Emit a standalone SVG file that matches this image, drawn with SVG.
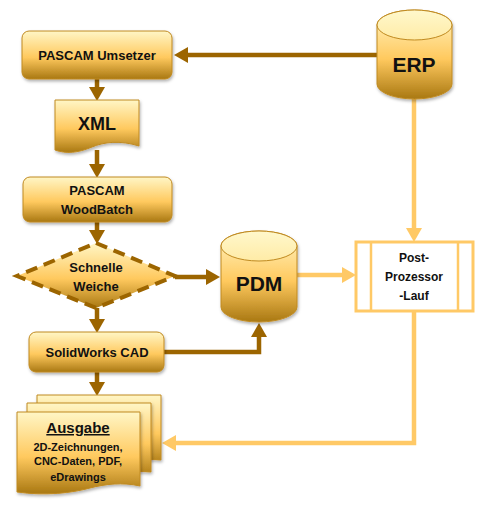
<svg xmlns="http://www.w3.org/2000/svg" width="490" height="510" viewBox="0 0 490 510">
<defs>
<linearGradient id="g" x1="0" y1="0" x2="0" y2="1">
<stop offset="0" stop-color="#FFF6C6"/>
<stop offset="0.55" stop-color="#FFC95E"/>
<stop offset="1" stop-color="#A97812"/>
</linearGradient>
<linearGradient id="gtop" x1="0" y1="0" x2="0" y2="1">
<stop offset="0" stop-color="#FFF8CC"/>
<stop offset="1" stop-color="#FFEBA6"/>
</linearGradient>
<filter id="sh" x="-10%" y="-10%" width="125%" height="130%">
<feDropShadow dx="1" dy="2" stdDeviation="1.5" flood-color="#000" flood-opacity="0.3"/>
</filter>
<marker id="ab" markerUnits="userSpaceOnUse" markerWidth="14" markerHeight="16" refX="0" refY="8" orient="auto">
<path d="M0,0 L14,8 L0,16 z" fill="#9C6500"/>
</marker>
<marker id="al" markerUnits="userSpaceOnUse" markerWidth="14" markerHeight="16" refX="0" refY="8" orient="auto">
<path d="M0,0 L14,8 L0,16 z" fill="#FFC966"/>
</marker>
<style>
.n{fill:url(#g);stroke:#C08A20;stroke-width:1;filter:url(#sh)}
.top{fill:url(#gtop);stroke:#C08A20;stroke-width:1}
.t{font-family:"Liberation Sans",Arial,sans-serif;font-weight:bold;font-size:13px;fill:#111;text-anchor:middle}
.cb{fill:none;stroke:#9C6500;stroke-width:4.5}
.cl{fill:none;stroke:#FFC966;stroke-width:4.5}
</style>
</defs>
<rect width="490" height="510" fill="#FFFFFF"/>
<g id="connectors">
<path class="cb" d="M377,55 H188" marker-end="url(#ab)"/>
<path class="cb" d="M97,79 V87" marker-end="url(#ab)"/>
<path class="cb" d="M97,150 V164" marker-end="url(#ab)"/>
<path class="cb" d="M97,222 V230" marker-end="url(#ab)"/>
<path class="cb" d="M97,308 V319" marker-end="url(#ab)"/>
<path class="cb" d="M97,372 V382" marker-end="url(#ab)"/>
<path class="cb" d="M175,277 H206" marker-end="url(#ab)"/>
<path class="cb" d="M164,352 H259 V337" marker-end="url(#ab)"/>
<path class="cl" d="M414,99 V228" marker-end="url(#al)"/>
<path class="cl" d="M297,275 H342" marker-end="url(#al)"/>
<path class="cl" d="M414,311 V443 H176" marker-end="url(#al)"/>
</g>
<g id="umsetzer">
<rect class="n" x="22" y="31" width="150" height="48" rx="7"/>
<text class="t" x="97" y="60">PASCAM Umsetzer</text>
</g>
<g id="xml">
<path class="n" d="M55,100 H139 V146 C120,140 104,142 92,147 C78,153 66,154 55,150 Z"/>
<text class="t" x="97" y="130" style="font-size:18px">XML</text>
</g>
<g id="woodbatch">
<rect class="n" x="23" y="177" width="149" height="45" rx="7"/>
<text class="t" x="97" y="195">PASCAM</text>
<text class="t" x="97" y="214">WoodBatch</text>
</g>
<g id="weiche">
<polygon points="96,243 175,276 96,308 17,276" fill="url(#g)" stroke="#9C6500" stroke-width="4" stroke-dasharray="12 7"/>
<text class="t" x="96" y="272">Schnelle</text>
<text class="t" x="96" y="291">Weiche</text>
</g>
<g id="solidworks">
<rect class="n" x="29" y="332" width="135" height="40" rx="7"/>
<text class="t" x="97" y="357">SolidWorks CAD</text>
</g>
<g id="ausgabe">
<path class="n" d="M37,395 H161 V460 C140,458 120,462 100,464 C80,466 60,466 37,462 Z"/>
<path class="n" d="M27,403 H151 V472 C130,470 110,474 90,476 C70,478 50,478 27,474 Z"/>
<path class="n" d="M17,412 H140 V486 C122,482 106,484 90,488 C72,493 45,496 17,492 Z"/>
<text class="t" x="78" y="433" style="font-size:15px;text-decoration:underline">Ausgabe</text>
<text class="t" x="78" y="451" style="font-size:11px">2D-Zeichnungen,</text>
<text class="t" x="78" y="465" style="font-size:11px">CNC-Daten, PDF,</text>
<text class="t" x="78" y="481" style="font-size:11px">eDrawings</text>
</g>
<g id="erp">
<path class="n" d="M377,25 A37.5,15 0 0 1 452,25 V84 A37.5,15 0 0 1 377,84 Z"/>
<ellipse class="top" cx="414.5" cy="25" rx="37.5" ry="15"/>
<text class="t" x="414" y="72" style="font-size:21px">ERP</text>
</g>
<g id="pdm">
<path class="n" d="M221,246 A38,15 0 0 1 297,246 V307 A38,15 0 0 1 221,307 Z"/>
<ellipse class="top" cx="259" cy="246" rx="38" ry="15"/>
<text class="t" x="259" y="291" style="font-size:21px">PDM</text>
</g>
<g id="postprozessor">
<rect x="356" y="242" width="117" height="69" fill="#FFFFFF" stroke="#FFC966" stroke-width="3"/>
<line x1="371" y1="242" x2="371" y2="311" stroke="#FFC966" stroke-width="2.5"/>
<line x1="458" y1="242" x2="458" y2="311" stroke="#FFC966" stroke-width="2.5"/>
<text class="t" x="414" y="262" style="font-size:12px">Post-</text>
<text class="t" x="414" y="281" style="font-size:12px">Prozessor</text>
<text class="t" x="414" y="300" style="font-size:12px">-Lauf</text>
</g>
</svg>
